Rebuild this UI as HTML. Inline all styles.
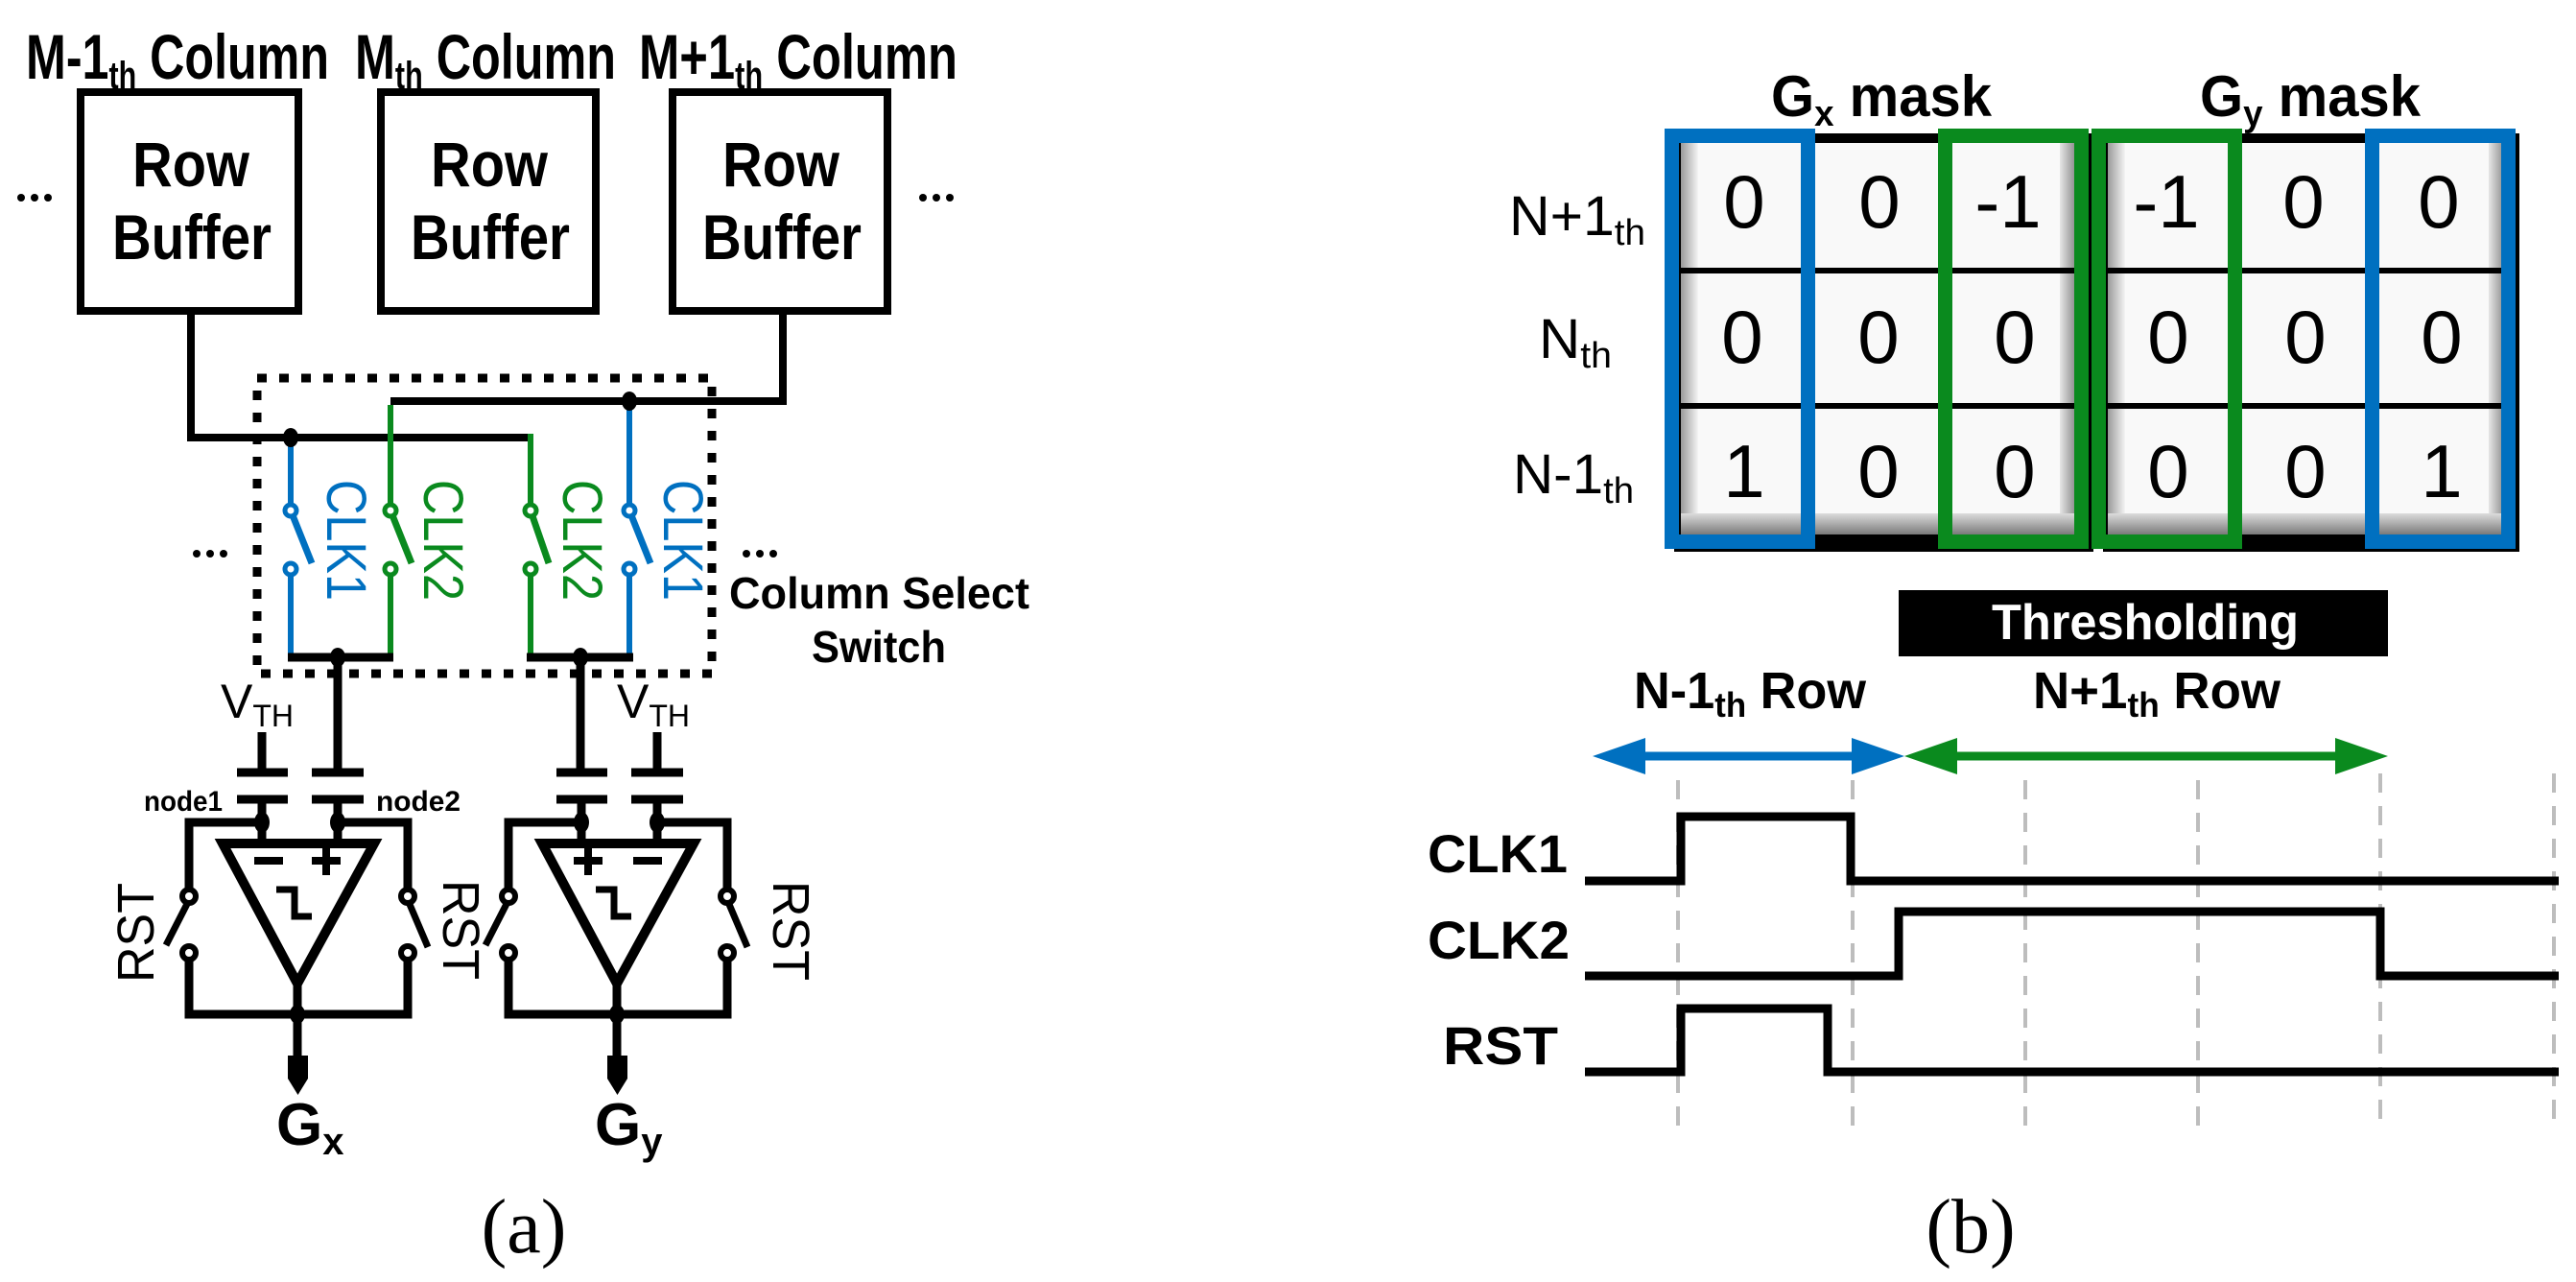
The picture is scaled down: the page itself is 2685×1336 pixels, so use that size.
<!DOCTYPE html>
<html><head><meta charset="utf-8"><style>
html,body{margin:0;padding:0;background:#fff;}
svg{display:block;}
text{font-family:"Liberation Sans",Arial,sans-serif;}
</style></head><body>
<svg width="2685" height="1336" viewBox="0 0 2685 1336" xmlns="http://www.w3.org/2000/svg">
<defs>
<linearGradient id="gb" x1="0" y1="0" x2="0" y2="1"><stop offset="0" stop-color="#dcdcdc"/><stop offset="1" stop-color="#7a7a7a"/></linearGradient>
<linearGradient id="gr" x1="0" y1="0" x2="1" y2="0"><stop offset="0" stop-color="#e6e6e6"/><stop offset="1" stop-color="#8e8e8e"/></linearGradient>
<linearGradient id="gl" x1="0" y1="0" x2="1" y2="0"><stop offset="0" stop-color="#9a9a9a"/><stop offset="1" stop-color="#f4f4f4"/></linearGradient>
<g id="comp" stroke="#000" fill="none" stroke-width="9">
  <line x1="273" y1="833" x2="273" y2="877"/>
  <line x1="352" y1="833" x2="352" y2="877"/>
  <line x1="247" y1="805" x2="300" y2="805"/>
  <line x1="325" y1="805" x2="379" y2="805"/>
  <line x1="247" y1="833" x2="300" y2="833"/>
  <line x1="325" y1="833" x2="379" y2="833"/>
  <polyline points="273,857 197,857 197,934"/>
  <polyline points="352,857 425,857 425,934"/>
  <path d="M232,879 L390,879 L310,1025 Z" stroke-width="10"/>
  <polyline points="288,927 307,927 307,955 325,955" stroke-width="7"/>
  <line x1="196" y1="940" x2="173" y2="985" stroke-width="7"/>
  <line x1="426" y1="940" x2="446" y2="987" stroke-width="7"/>
  <polyline points="197,999 197,1057 425,1057 425,999"/>
  <line x1="310" y1="1025" x2="310" y2="1105"/>
  <circle cx="197" cy="934" r="7" fill="#fff" stroke-width="6"/>
  <circle cx="197" cy="993" r="7" fill="#fff" stroke-width="6"/>
  <circle cx="425" cy="934" r="7" fill="#fff" stroke-width="6"/>
  <circle cx="425" cy="993" r="7" fill="#fff" stroke-width="6"/>
  <ellipse cx="273" cy="857" rx="8" ry="11" fill="#000" stroke="none"/>
  <ellipse cx="352" cy="857" rx="8" ry="11" fill="#000" stroke="none"/>
  <ellipse cx="310" cy="1057" rx="8" ry="10" fill="#000" stroke="none"/>
  <polygon points="300,1100 321,1100 321,1124 310.5,1141 300,1124" fill="#000" stroke="none"/>
</g>
</defs>

<text x="27" y="82" font-size="66" font-weight="bold" textLength="316" lengthAdjust="spacingAndGlyphs">M-1<tspan font-size="40" dy="10">th</tspan><tspan dy="-10"> Column</tspan></text>
<text x="370" y="82" font-size="66" font-weight="bold" textLength="272" lengthAdjust="spacingAndGlyphs">M<tspan font-size="40" dy="10">th</tspan><tspan dy="-10"> Column</tspan></text>
<text x="666" y="82" font-size="66" font-weight="bold" textLength="332" lengthAdjust="spacingAndGlyphs">M+1<tspan font-size="40" dy="10">th</tspan><tspan dy="-10"> Column</tspan></text>

<g fill="none" stroke="#000" stroke-width="8">
<rect x="84" y="96" width="227" height="228"/>
<rect x="397" y="96" width="224" height="228"/>
<rect x="701" y="96" width="224" height="228"/>
</g>
<g font-size="66" font-weight="bold" text-anchor="middle">
<text x="199" y="194" textLength="122" lengthAdjust="spacingAndGlyphs">Row</text>
<text x="200" y="270" textLength="166" lengthAdjust="spacingAndGlyphs">Buffer</text>
<text x="510" y="194" textLength="122" lengthAdjust="spacingAndGlyphs">Row</text>
<text x="511" y="270" textLength="166" lengthAdjust="spacingAndGlyphs">Buffer</text>
<text x="814" y="194" textLength="122" lengthAdjust="spacingAndGlyphs">Row</text>
<text x="815" y="270" textLength="166" lengthAdjust="spacingAndGlyphs">Buffer</text>
</g>
<g fill="#000">
<circle cx="22" cy="206" r="4"/><circle cx="36" cy="206" r="4"/><circle cx="50" cy="206" r="4"/>
<circle cx="962" cy="206" r="4"/><circle cx="976" cy="206" r="4"/><circle cx="990" cy="206" r="4"/>
<circle cx="205" cy="577" r="4"/><circle cx="219" cy="577" r="4"/><circle cx="233" cy="577" r="4"/>
<circle cx="778" cy="577" r="4"/><circle cx="792" cy="577" r="4"/><circle cx="806" cy="577" r="4"/>
</g>

<rect x="268" y="394" width="474" height="308" fill="none" stroke="#000" stroke-width="9" stroke-dasharray="10 13"/>

<g fill="none" stroke-width="8">
<polyline points="199,324 199,456 553,456" stroke="#000"/>
<polyline points="816,324 816,418 407,418" stroke="#000"/>
<line x1="553" y1="452" x2="553" y2="526" stroke="#0a8a1e" stroke-width="6"/>
<line x1="407" y1="422" x2="407" y2="526" stroke="#0a8a1e" stroke-width="6"/>
<line x1="303" y1="460" x2="303" y2="526" stroke="#0070c0" stroke-width="6"/>
<line x1="656" y1="422" x2="656" y2="526" stroke="#0070c0" stroke-width="6"/>
<line x1="303" y1="532" x2="325" y2="587" stroke="#0070c0" stroke-width="7"/>
<line x1="407" y1="532" x2="429" y2="587" stroke="#0a8a1e" stroke-width="7"/>
<line x1="553" y1="532" x2="572" y2="587" stroke="#0a8a1e" stroke-width="7"/>
<line x1="656" y1="532" x2="678" y2="587" stroke="#0070c0" stroke-width="7"/>
<line x1="303" y1="599" x2="303" y2="686" stroke="#0070c0" stroke-width="6"/>
<line x1="407" y1="599" x2="407" y2="686" stroke="#0a8a1e" stroke-width="6"/>
<line x1="553" y1="599" x2="553" y2="686" stroke="#0a8a1e" stroke-width="6"/>
<line x1="656" y1="599" x2="656" y2="686" stroke="#0070c0" stroke-width="6"/>
<line x1="300" y1="685" x2="410" y2="685" stroke="#000" stroke-width="9"/>
<line x1="549" y1="685" x2="660" y2="685" stroke="#000" stroke-width="9"/>
<line x1="352" y1="685" x2="352" y2="805" stroke="#000" stroke-width="9"/>
<line x1="605" y1="685" x2="605" y2="805" stroke="#000" stroke-width="9"/>
</g>
<g stroke-width="5" fill="#fff">
<circle cx="303" cy="532" r="6" stroke="#0070c0"/><circle cx="303" cy="593" r="6" stroke="#0070c0"/>
<circle cx="407" cy="532" r="6" stroke="#0a8a1e"/><circle cx="407" cy="593" r="6" stroke="#0a8a1e"/>
<circle cx="553" cy="532" r="6" stroke="#0a8a1e"/><circle cx="553" cy="593" r="6" stroke="#0a8a1e"/>
<circle cx="656" cy="532" r="6" stroke="#0070c0"/><circle cx="656" cy="593" r="6" stroke="#0070c0"/>
</g>
<g fill="#000">
<ellipse cx="303" cy="456" rx="8" ry="10"/><ellipse cx="656" cy="418" rx="8" ry="10"/>
<ellipse cx="352" cy="685" rx="8" ry="10"/><ellipse cx="605" cy="685" rx="8" ry="10"/>
</g>
<g font-size="58">
<text transform="translate(341,500) rotate(90)" fill="#0070c0" textLength="126" lengthAdjust="spacingAndGlyphs">CLK1</text>
<text transform="translate(442,500) rotate(90)" fill="#0a8a1e" textLength="126" lengthAdjust="spacingAndGlyphs">CLK2</text>
<text transform="translate(587,500) rotate(90)" fill="#0a8a1e" textLength="126" lengthAdjust="spacingAndGlyphs">CLK2</text>
<text transform="translate(692,500) rotate(90)" fill="#0070c0" textLength="126" lengthAdjust="spacingAndGlyphs">CLK1</text>
</g>
<text x="760" y="634" font-size="46" font-weight="bold" textLength="313" lengthAdjust="spacingAndGlyphs">Column Select</text>
<text x="846" y="690" font-size="46" font-weight="bold" textLength="140" lengthAdjust="spacingAndGlyphs">Switch</text>

<use href="#comp"/>
<line x1="273" y1="763" x2="273" y2="805" stroke="#000" stroke-width="9"/>
<g stroke="#000" stroke-width="8"><line x1="265" y1="897" x2="295" y2="897"/><line x1="325" y1="897" x2="355" y2="897"/><line x1="340" y1="882" x2="340" y2="912"/></g>
<use href="#comp" transform="translate(333,0)"/>
<line x1="685" y1="763" x2="685" y2="805" stroke="#000" stroke-width="9"/>
<g stroke="#000" stroke-width="8"><line x1="598" y1="897" x2="628" y2="897"/><line x1="613" y1="882" x2="613" y2="912"/><line x1="660" y1="897" x2="690" y2="897"/></g>

<text x="230" y="748" font-size="50">V<tspan font-size="32" dy="9">TH</tspan></text>
<text x="643" y="748" font-size="50">V<tspan font-size="32" dy="9">TH</tspan></text>
<text x="150" y="845" font-size="30" font-weight="bold" textLength="82" lengthAdjust="spacingAndGlyphs">node1</text>
<text x="392" y="845" font-size="30" font-weight="bold" textLength="88" lengthAdjust="spacingAndGlyphs">node2</text>
<g font-size="54">
<text transform="translate(160,1024) rotate(-90)" textLength="104" lengthAdjust="spacingAndGlyphs">RST</text>
<text transform="translate(462,917) rotate(90)" textLength="104" lengthAdjust="spacingAndGlyphs">RST</text>
<text transform="translate(806,918) rotate(90)" textLength="104" lengthAdjust="spacingAndGlyphs">RST</text>
</g>
<text x="288" y="1193" font-size="62" font-weight="bold">G<tspan font-size="40" dy="10">x</tspan></text>
<text x="620" y="1193" font-size="62" font-weight="bold">G<tspan font-size="40" dy="10">y</tspan></text>
<text x="546" y="1305" font-size="80" text-anchor="middle" style="font-family:'Liberation Serif',serif">(a)</text>

<text x="1846" y="121" font-size="60" font-weight="bold" textLength="230" lengthAdjust="spacingAndGlyphs">G<tspan font-size="38" dy="10">x</tspan><tspan dy="-10"> mask</tspan></text>
<text x="2293" y="121" font-size="60" font-weight="bold" textLength="230" lengthAdjust="spacingAndGlyphs">G<tspan font-size="38" dy="10">y</tspan><tspan dy="-10"> mask</tspan></text>

<rect x="1745" y="139" width="437" height="436" fill="#000"/>
<rect x="2192" y="139" width="434" height="436" fill="#000"/>
<g>
<rect x="1752" y="149" width="411" height="408" fill="#f9f9f9"/>
<rect x="1752" y="149" width="18" height="408" fill="url(#gl)"/>
<rect x="2147" y="149" width="16" height="408" fill="url(#gr)"/>
<rect x="1752" y="535" width="411" height="22" fill="url(#gb)"/>
<rect x="2197" y="149" width="413" height="408" fill="#f9f9f9"/>
<rect x="2197" y="149" width="18" height="408" fill="url(#gl)"/>
<rect x="2594" y="149" width="16" height="408" fill="url(#gr)"/>
<rect x="2197" y="535" width="413" height="22" fill="url(#gb)"/>
</g>
<g stroke="#000" stroke-width="6">
<line x1="1750" y1="282" x2="2163" y2="282"/><line x1="1750" y1="423" x2="2163" y2="423"/>
<line x1="2195" y1="282" x2="2610" y2="282"/><line x1="2195" y1="423" x2="2610" y2="423"/>
</g>
<g fill="none" stroke-width="15">
<rect x="1742.5" y="141.5" width="142" height="423" stroke="#0070c0"/>
<rect x="2027.5" y="141.5" width="142" height="423" stroke="#0a8a1e"/>
<rect x="2187.5" y="141.5" width="142" height="423" stroke="#0a8a1e"/>
<rect x="2472.5" y="141.5" width="142" height="423" stroke="#0070c0"/>
</g>
<g font-size="78" text-anchor="middle">
<text x="1818" y="237">0</text><text x="1959" y="237">0</text><text x="2093" y="237">-1</text>
<text x="2258" y="237">-1</text><text x="2401" y="237">0</text><text x="2542" y="237">0</text>
<text x="1816" y="378">0</text><text x="1958" y="378">0</text><text x="2100" y="378">0</text>
<text x="2260" y="378">0</text><text x="2403" y="378">0</text><text x="2545" y="378">0</text>
<text x="1818" y="518">1</text><text x="1958" y="518">0</text><text x="2100" y="518">0</text>
<text x="2260" y="518">0</text><text x="2403" y="518">0</text><text x="2545" y="518">1</text>
</g>
<g font-size="58">
<text x="1573" y="245" textLength="142" lengthAdjust="spacingAndGlyphs">N+1<tspan font-size="38" dy="10">th</tspan></text>
<text x="1604" y="373" textLength="76" lengthAdjust="spacingAndGlyphs">N<tspan font-size="38" dy="10">th</tspan></text>
<text x="1577" y="514" textLength="126" lengthAdjust="spacingAndGlyphs">N-1<tspan font-size="38" dy="10">th</tspan></text>
</g>

<rect x="1979" y="615" width="510" height="69" fill="#000"/>
<text x="2236" y="666" font-size="52" font-weight="bold" fill="#fff" text-anchor="middle" textLength="320" lengthAdjust="spacingAndGlyphs">Thresholding</text>
<text x="1703" y="738" font-size="54" font-weight="bold" textLength="242" lengthAdjust="spacingAndGlyphs">N-1<tspan font-size="36" dy="9">th</tspan><tspan dy="-9"> Row</tspan></text>
<text x="2119" y="738" font-size="54" font-weight="bold" textLength="258" lengthAdjust="spacingAndGlyphs">N+1<tspan font-size="36" dy="9">th</tspan><tspan dy="-9"> Row</tspan></text>

<line x1="1700" y1="788" x2="1935" y2="788" stroke="#0070c0" stroke-width="9"/>
<polygon points="1660,788 1715,769 1715,807" fill="#0070c0"/>
<polygon points="1985,788 1930,769 1930,807" fill="#0070c0"/>
<line x1="2030" y1="788" x2="2440" y2="788" stroke="#0a8a1e" stroke-width="9"/>
<polygon points="1985,788 2040,769 2040,807" fill="#0a8a1e"/>
<polygon points="2489,788 2434,769 2434,807" fill="#0a8a1e"/>

<g stroke="#bdbdbd" stroke-width="4" stroke-dasharray="20 14">
<line x1="1749" y1="813" x2="1749" y2="1178"/>
<line x1="1931" y1="813" x2="1931" y2="1178"/>
<line x1="2111" y1="813" x2="2111" y2="1178"/>
<line x1="2291" y1="813" x2="2291" y2="1178"/>
<line x1="2481" y1="806" x2="2481" y2="1170"/>
<line x1="2662" y1="806" x2="2662" y2="1170"/>
</g>

<g fill="none" stroke="#000" stroke-width="9">
<polyline points="1652,918 1752,918 1752,851 1929,851 1929,918 2667,918"/>
<polyline points="1652,1017 1979,1017 1979,950 2481,950 2481,1017 2667,1017"/>
<polyline points="1652,1117 1752,1117 1752,1051 1905,1051 1905,1117 2667,1117"/>
</g>
<g font-size="56" font-weight="bold">
<text x="1488" y="909" textLength="146" lengthAdjust="spacingAndGlyphs">CLK1</text>
<text x="1488" y="999" textLength="148" lengthAdjust="spacingAndGlyphs">CLK2</text>
<text x="1504" y="1109" textLength="120" lengthAdjust="spacingAndGlyphs">RST</text>
</g>
<text x="2054" y="1305" font-size="80" text-anchor="middle" style="font-family:'Liberation Serif',serif">(b)</text>
</svg>
</body></html>
